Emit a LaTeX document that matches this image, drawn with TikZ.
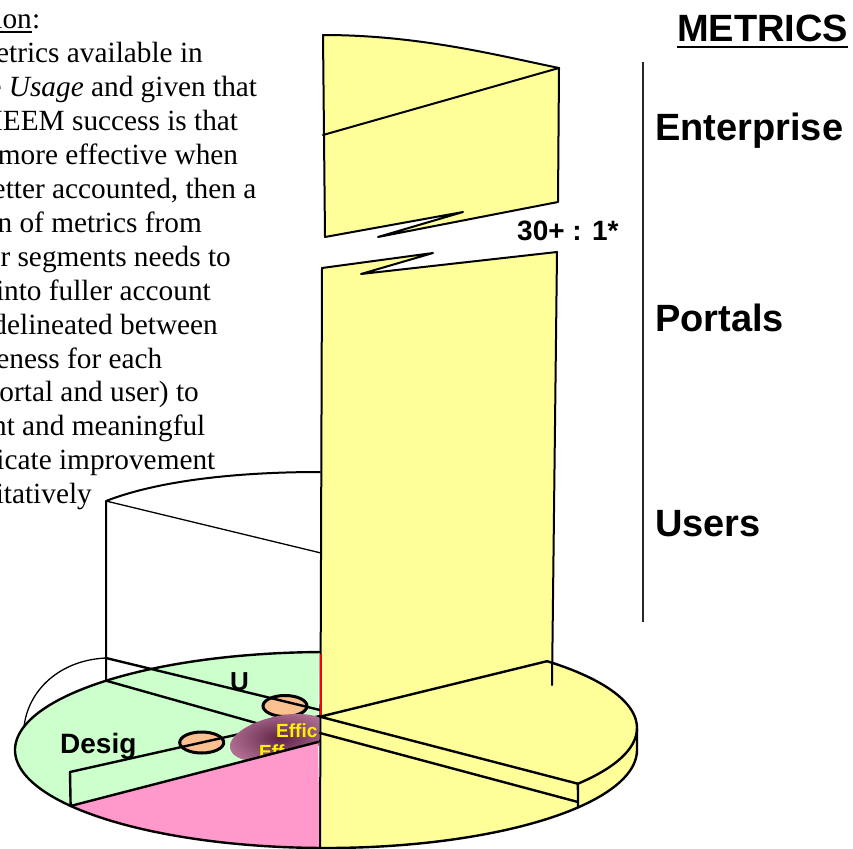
\documentclass[tikz,border=0pt]{standalone}
\usepackage{fontspec}
\setmainfont{Liberation Serif}
\newfontfamily\headfont{Liberation Sans}
\usetikzlibrary{shapes.geometric}
\definecolor{colyellow}{HTML}{FFFF99}
\definecolor{colgreen}{HTML}{CCFFCC}
\definecolor{colpink}{HTML}{FF99CC}
\definecolor{colpeach}{HTML}{FAC090}
\definecolor{blobdark}{RGB}{95,35,70}
\definecolor{bloblight}{RGB}{175,110,145}
\begin{document}
\begin{tikzpicture}[x=1pt,y=-1pt,
  outline/.style={draw=black, line width=2.4pt, line join=round, line cap=round},
  thinline/.style={draw=black, line width=1.3pt, line cap=round},
  bodytext/.style={font=\fontsize{29.3}{34}\selectfont, inner sep=0pt, anchor=base east},
  headtext/.style={font=\headfont\bfseries\fontsize{38}{44}\selectfont, inner sep=0pt, anchor=base west},
  slicetext/.style={font=\headfont\bfseries\fontsize{28}{32}\selectfont, inner sep=0pt, anchor=base west},
  efftext/.style={font=\headfont\bfseries\fontsize{19}{22}\selectfont, text=yellow, inner sep=0pt, anchor=base west},
  pill/.style={ellipse, draw=black, line width=3pt, fill=colpeach, inner sep=0pt, minimum width=44pt, minimum height=21pt}
]
\useasboundingbox (0,0) rectangle (853,848);

% ---------- explanatory text (runs off the left edge) ----------
\node[bodytext] (t1a) at (32,29) {ion};
\node[bodytext, anchor=base west] (t1b) at (t1a.base east) {:};
\draw[line width=1.4pt] ([yshift=-3pt]t1a.base west) -- ([yshift=-3pt]t1a.base east);
\node[bodytext] (t2)  at (203,62.9)    {etrics available in};
\node[bodytext] (t3)  at (257.3,96.8)  {e \textit{Usage} and given that};
\node[bodytext] (t4)  at (238.3,130.7) {IEEM success is that};
\node[bodytext] (t5)  at (238.3,164.6) {more effective when};
\node[bodytext] (t6)  at (256.5,198.5) {etter accounted, then a};
\node[bodytext] (t7)  at (202,232.4)   {n of metrics from};
\node[bodytext] (t8)  at (231,266.3)   {r segments needs to};
\node[bodytext] (t9)  at (211,300.2)   {into fuller account};
\node[bodytext] (t10) at (218,334.1)   {delineated between};
\node[bodytext] (t11) at (162.5,368)   {eness for each};
\node[bodytext] (t12) at (199,401.9)   {ortal and user) to};
\node[bodytext] (t13) at (205.5,435.8) {nt and meaningful};
\node[bodytext] (t14) at (215.5,469.7) {icate improvement};
\node[bodytext] (t15) at (92,503.6)    {itatively};

% ---------- upper (Enterprise) column piece ----------
\filldraw[fill=colyellow, outline, line width=2pt]
  (323,35) .. controls (420,35) and (500,56) .. (559,68)
  -- (558,202) -- (378,237) -- (463,212) -- (325,237) -- cycle;
\draw[outline, line width=2pt] (559,68) -- (323,135);

% ---------- green slices ----------
\fill[colgreen] plot[domain=268.9:145.2, samples=90] ({326+311*cos(\x)},{750+98*sin(\x)})
  -- (318,742) -- (319,652) -- cycle;
\node[pill] (ovalU) at (285,706) {};
\node[pill] (ovalD) at (201.7,742.5) {};
\draw[outline] (106,658) -- (320,710);
\draw[outline] (106.09,680.7) -- (320,741);
\draw[outline] (70,772) -- (320,716);
\draw[outline] (70,772) -- (70.62,805.93);
\draw[thinline] (106,658) .. controls (60,660) and (28,690) .. (24,727);

% efficiency blob on the front face
\begin{scope}
  \clip (0,0) rectangle (319,848);
  \begin{scope}[shift={(280,738)}, rotate=12]
    \shade[inner color=blobdark, outer color=bloblight] (0,0) ellipse [x radius=51pt, y radius=22pt];
  \end{scope}
  \node[efftext] (effa) at (276,737) {Effic};
  \node[efftext] (effb) at (259,758) {Eff};
\end{scope}

% ---------- pink slice ----------
\fill[colpink] (70.62,805.93) -- (318,742) -- (320,848)
  -- plot[domain=91.1:145.2, samples=40] ({326+311*cos(\x)},{750+98*sin(\x)}) -- cycle;
\draw[outline] (70.62,805.93) -- (318,742);

% ---------- lower yellow column and yellow slice ----------
\fill[colyellow] (322,268) -- (433,253) -- (361,274) -- (557,252) -- (551.9,662.7)
  -- plot[domain=-43.4:0, samples=30] ({326+311*cos(\x)},{728+95*sin(\x)})
  -- plot[domain=0:91.1, samples=60] ({326+311*cos(\x)},{750+98*sin(\x)}) -- cycle;
\draw[outline, line width=2pt] (322,268) -- (433,253) -- (361,274) -- (557,252) -- (552,685);
\draw[outline, line width=2pt] (322,268) -- (320,848);
\draw[outline] plot[domain=-44.7:35.9, samples=50] ({326+311*cos(\x)},{728+95*sin(\x)});
\coordinate (C) at (320,716.7);
\draw[outline] (547.06,661.18) -- (C) -- (577.92,783.71) -- (578,807.4);
\draw[outline] (578,802) -- (320,733);
\draw[outline] (637,728) -- plot[domain=0:268.9, samples=160] ({326+311*cos(\x)},{750+98*sin(\x)});
\draw[red, line width=1.2pt] (320.9,654) -- (320.9,715);

% ---------- white Users cylinder ----------
\draw[outline, line width=2pt] (106,681) -- (106,501) .. controls (160,480) and (240,472) .. (320,472);
\draw[thinline] (106,501) -- (321,553);

% slice labels
\node[slicetext, font=\headfont\bfseries\fontsize{26}{30}\selectfont] (lblU) at (230,690) {U};
\node[slicetext] (lblD) at (60,753) {Desig};

% ---------- metric levels ----------
\node[headtext] (metrics) at (677,41.6) {METRICS};
\draw[line width=2.6pt] ([yshift=-5.5pt]metrics.base west) -- ([yshift=-5.5pt]metrics.base east);
\node[headtext] (ent) at (655,140.6) {Enterprise};
\node[headtext] (por) at (655,331.6) {Portals};
\node[headtext] (usr) at (655,536.6) {Users};
\node[slicetext] (ratio) at (517,240) {30+ : 1*};
\draw[line width=1.8pt, black!85] (643,62) -- (643,622);
\end{tikzpicture}
\end{document}
